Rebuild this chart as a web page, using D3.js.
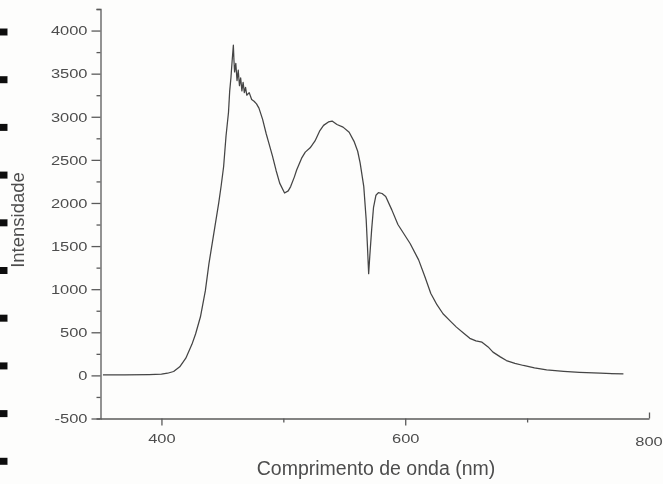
<!DOCTYPE html>
<html>
<head>
<meta charset="utf-8">
<script src="https://cdn.jsdelivr.net/npm/d3@7"></script>
<style>
  html, body { margin: 0; padding: 0; background: #fdfdfc; }
  svg { display: block; }
</style>
</head>
<body>
<svg id="chart" width="663" height="484"></svg>
<script>
// ---- data ----
const wavelength = [352, 370, 390, 400, 405, 410, 415, 420, 425, 428, 432, 436, 439, 443, 447, 449, 451, 453, 455, 456, 457, 458, 459, 459.5, 460, 461, 462, 463, 464, 465, 466, 467, 468, 469, 470, 472, 474, 476, 478, 480, 483, 486, 488, 491, 494, 497, 501, 504, 506, 509, 511, 515, 518, 522, 526, 530, 533, 537, 540, 544, 549, 554, 558, 561, 563, 566, 568, 569, 570, 571, 572.5, 574, 576, 578, 581, 584, 589, 594, 599, 604, 611, 616, 621, 626, 631, 637, 642, 648, 653, 658, 663, 668, 672, 678, 683, 690, 697, 706, 716, 730, 743, 760, 779];
const intensity = [5, 5, 10, 15, 25, 45, 100, 200, 360, 480, 680, 980, 1300, 1650, 2000, 2200, 2420, 2780, 3050, 3300, 3450, 3650, 3830, 3650, 3520, 3620, 3420, 3540, 3360, 3450, 3300, 3400, 3280, 3340, 3250, 3280, 3200, 3180, 3150, 3100, 2970, 2800, 2700, 2550, 2380, 2230, 2115, 2140, 2190, 2300, 2385, 2520, 2590, 2640, 2720, 2840, 2900, 2940, 2950, 2910, 2880, 2820, 2715, 2600, 2465, 2190, 1800, 1500, 1180, 1400, 1700, 1950, 2090, 2120, 2110, 2075, 1920, 1750, 1640, 1530, 1340, 1150, 950, 820, 715, 630, 560, 490, 430, 400, 385, 330, 270, 215, 172, 140, 115, 88, 64, 48, 36, 25, 17];
const xTicks = [400, 600, 800];
const xMinorTicks = [500, 700];
const yTicks = [-500, 0, 500, 1000, 1500, 2000, 2500, 3000, 3500, 4000];
const yMinorTicks = [-250, 250, 750, 1250, 1750, 2250, 2750, 3250, 3750, 4250];
const xTitle = "Comprimento de onda (nm)";
const yTitle = "Intensidade";

const points = wavelength.map((w, i) => ({ w, v: intensity[i] }));

// ---- layout ----
const svg = d3.select("#chart");
const font = "'Liberation Sans', Arial, sans-serif";
const textColor = "#4d4d4d";
const axisColor = "#5a5a5a";
const fmt = d => String(d).replace("\u2212", "-");
const stretch = 1.22;

const x = d3.scaleLinear().domain([350, 800]).range([100.5, 649]);
const y = d3.scaleLinear().domain([-500, 4250]).range([418.5, 9]);

const soft = svg.append("defs").append("filter").attr("id", "soft");
soft.append("feGaussianBlur").attr("stdDeviation", 0.35);

const g = svg.append("g").attr("filter", "url(#soft)");

// decorative scan artifacts on the left edge
d3.range(10).forEach(i => {
  g.append("rect")
    .attr("x", 0).attr("y", 28.5 + i * 47.7)
    .attr("width", 7.5).attr("height", 7)
    .attr("fill", "#111");
});

// y axis
const yAxis = g.append("g").attr("transform", `translate(${x(350)},0)`)
  .call(d3.axisLeft(y).tickValues(yTicks).tickSize(9).tickSizeOuter(4).tickPadding(4).tickFormat(fmt));
const yMinor = g.append("g").attr("transform", `translate(${x(350)},0)`)
  .call(d3.axisLeft(y).tickValues(yMinorTicks).tickSize(4).tickFormat(""));
yMinor.select(".domain").remove();

// x axis
const xAxis = g.append("g").attr("transform", `translate(0,${y(-500)})`)
  .call(d3.axisBottom(x).tickValues(xTicks.filter(d => d < 800)).tickSize(7).tickSizeOuter(0).tickPadding(8).tickFormat(fmt));
const xMinor = g.append("g").attr("transform", `translate(0,${y(-500)})`)
  .call(d3.axisBottom(x).tickValues(xMinorTicks).tickSize(4).tickFormat(""));
xMinor.select(".domain").remove();
// last tick points upward, label below
const xEnd = g.append("g").attr("transform", `translate(0,${y(-500)})`)
  .call(d3.axisTop(x).tickValues(xTicks.filter(d => d === 800)).tickSize(6).tickFormat(""));
xEnd.select(".domain").remove();
const endLabel = g.append("g").attr("transform", `translate(${x(800)},${y(-500) + 27})`);
endLabel.append("text")
  .attr("text-anchor", "middle")
  .attr("transform", `scale(${stretch},1)`)
  .attr("font-family", font).attr("font-size", 13.5).attr("fill", textColor)
  .text(fmt(800));

[yAxis, yMinor, xAxis, xMinor, xEnd].forEach(a => {
  a.selectAll("path, line").attr("stroke", axisColor).attr("stroke-width", 1.3);
  a.selectAll("text").attr("font-family", font).attr("font-size", 13.5).attr("fill", textColor);
});
xAxis.selectAll("text").attr("dy", "0.71em").attr("transform", `scale(${stretch},1)`);
yAxis.selectAll("text").attr("x", -13 / stretch).attr("transform", `scale(${stretch},1)`);

// spectrum line
const line = d3.line().x(d => x(d.w)).y(d => y(d.v));
g.append("path")
  .datum(points)
  .attr("d", line)
  .attr("fill", "none")
  .attr("stroke", "#444")
  .attr("stroke-width", 1.25)
  .attr("stroke-linejoin", "round");

// titles
g.append("text")
  .attr("x", 376).attr("y", 475)
  .attr("text-anchor", "middle")
  .attr("font-family", font).attr("font-size", 19.5).attr("fill", textColor)
  .text(xTitle);

g.append("text")
  .attr("transform", "translate(24,220) rotate(-90)")
  .attr("text-anchor", "middle")
  .attr("font-family", font).attr("font-size", 18.5).attr("fill", textColor)
  .text(yTitle);
</script>
</body>
</html>
